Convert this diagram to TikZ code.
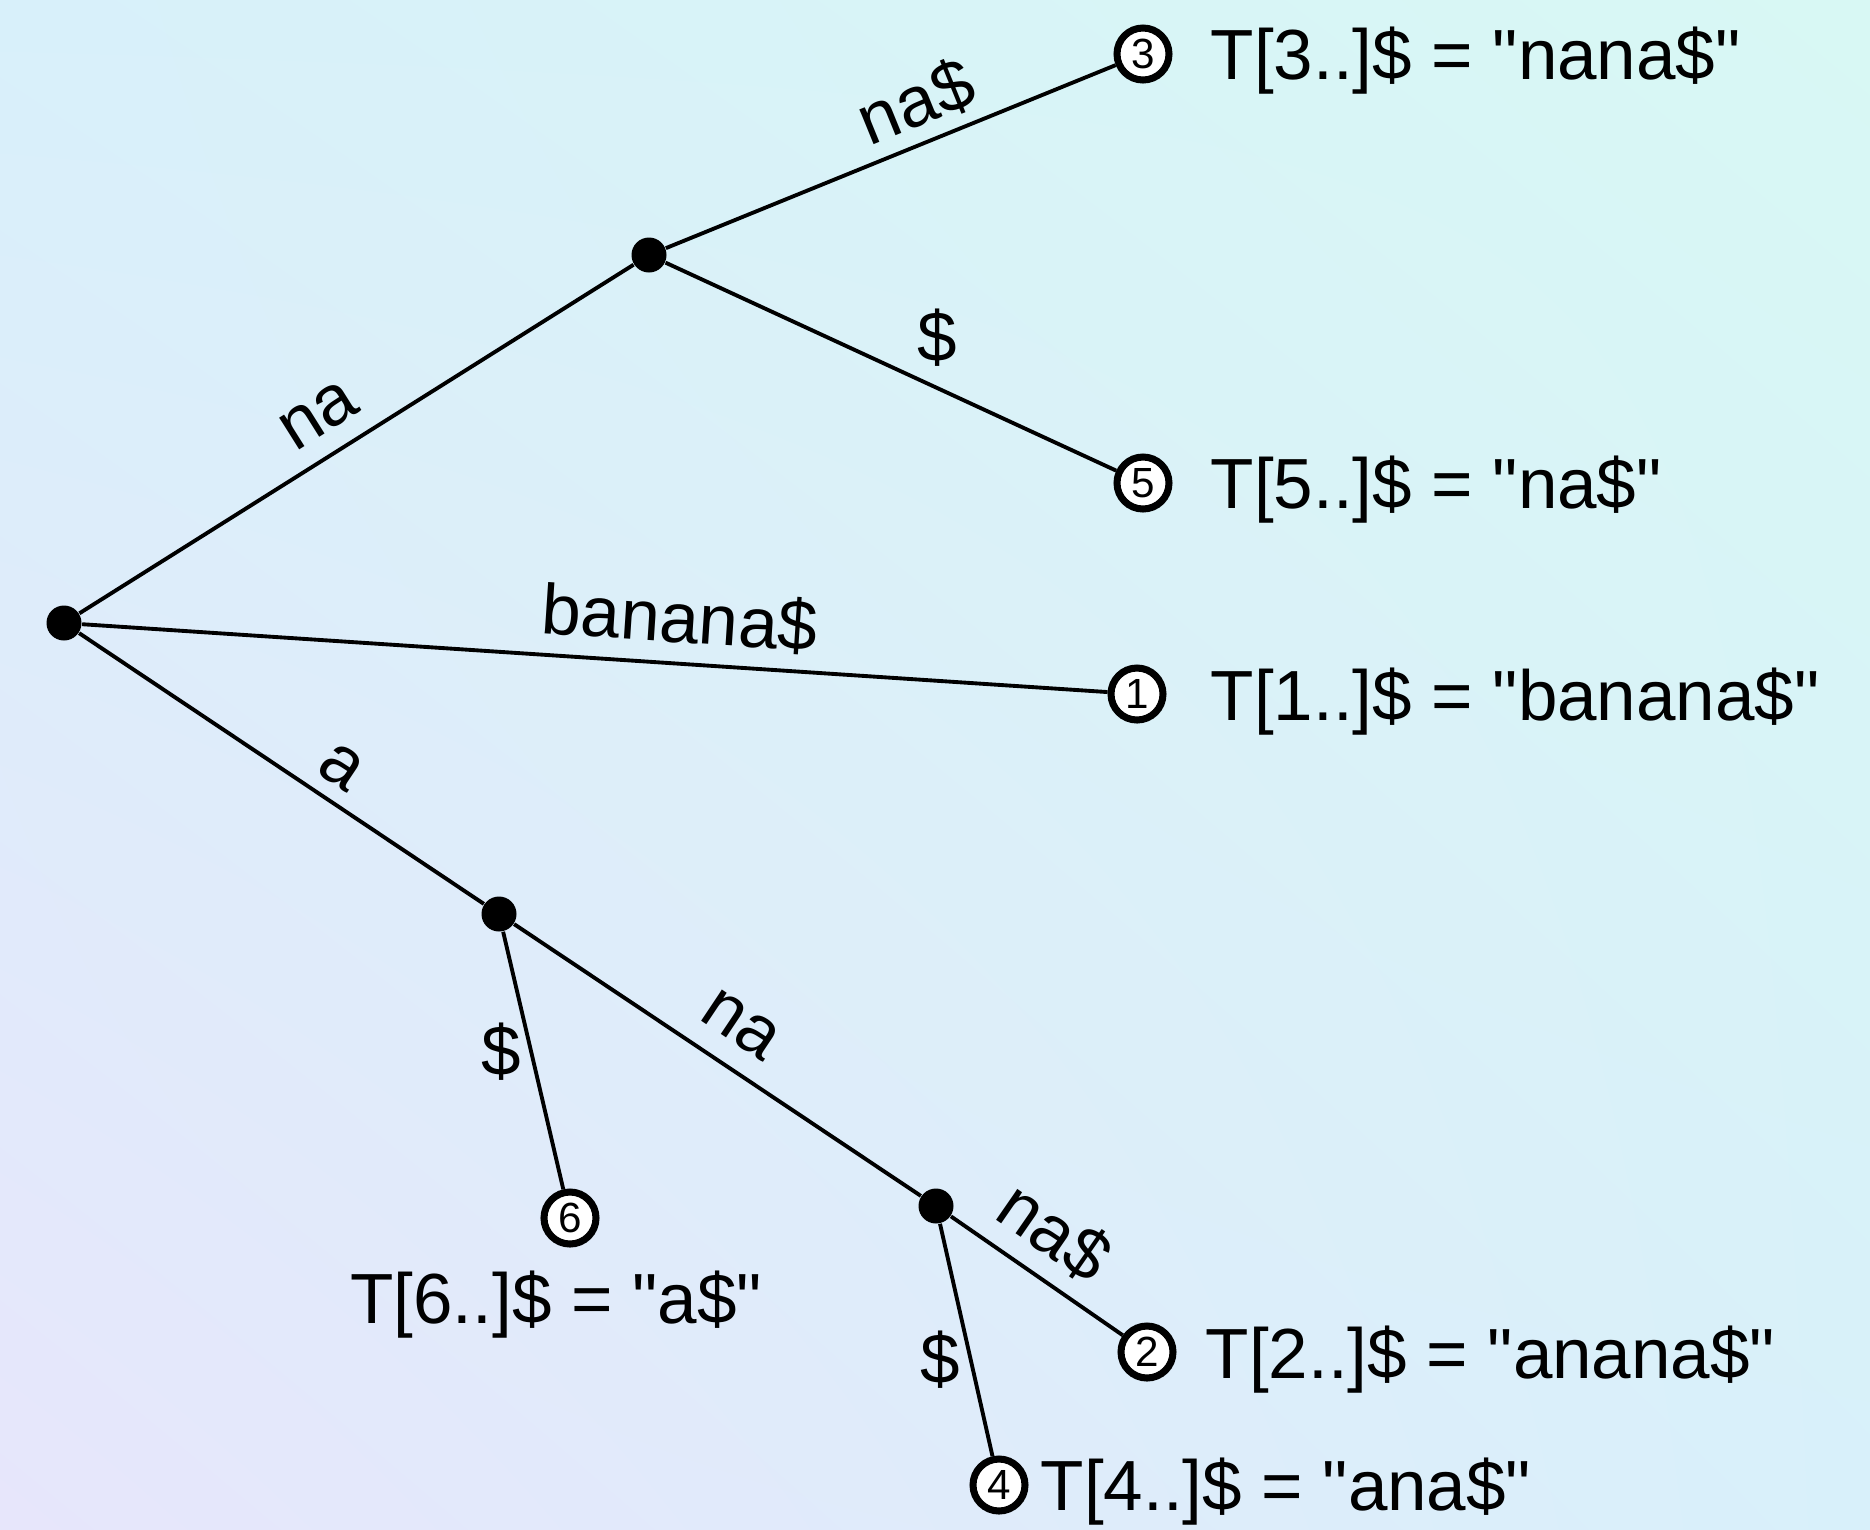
\documentclass[tikz,border=0pt]{standalone}
\usepackage{fontspec}
\setmainfont{Liberation Sans}[Ligatures=TeXOff]
\usetikzlibrary{shadings}
\definecolor{bgtl}{RGB}{216,240,250}
\definecolor{bgtr}{RGB}{216,248,244}
\definecolor{bgbl}{RGB}{231,230,251}
\definecolor{bgbr}{RGB}{216,240,250}
\begin{document}
\begin{tikzpicture}[
  dot/.style={circle, fill=black, inner sep=0pt, minimum size=0.35cm},
  leaf/.style={circle, draw, line width=2pt, fill=white, inner sep=0pt, minimum size=0.52cm, font=\fontsize{12}{14}\selectfont},
  lbl/.style={inner sep=0pt, font=\fontsize{20.2}{24}\selectfont},
  edge/.style={line width=1.1pt}]
  \shade[upper left=bgtl, upper right=bgtr, lower left=bgbl, lower right=bgbr] (0,-15.29) rectangle (18.70,0);

  \node[dot] (r) at (0.64,-6.23) {};
  \node[dot] (n1) at (6.49,-2.55) {};
  \node[dot] (n2) at (4.99,-9.14) {};
  \node[dot] (n3) at (9.36,-12.06) {};
  \node[leaf] (l3) at (11.43,-0.54) {3};
  \node[leaf] (l5) at (11.43,-4.83) {5};
  \node[leaf] (l1) at (11.37,-6.94) {1};
  \node[leaf] (l6) at (5.70,-12.18) {6};
  \node[leaf] (l2) at (11.47,-13.52) {2};
  \node[leaf] (l4) at (9.99,-14.85) {4};

  \draw[edge] (r) -- node[lbl, sloped, pos=0.47, yshift=0.40cm] {na} (n1);
  \draw[edge] (n1) -- node[lbl, sloped, pos=0.59, yshift=0.41cm] {na\$} (l3);
  \draw[edge] (n1) -- node[lbl, pos=0.56, xshift=0.19cm, yshift=0.41cm] {\$} (l5);
  \draw[edge] (r) -- node[lbl, sloped, pos=0.58, yshift=0.45cm] {banana\$} (l1);
  \draw[edge] (r) -- node[lbl, sloped, pos=0.60, yshift=0.35cm] {a} (n2);
  \draw[edge] (n2) -- node[lbl, pos=0.44, xshift=-0.28cm, yshift=-0.07cm] {\$} (l6);
  \draw[edge] (n2) -- node[lbl, sloped, pos=0.50, yshift=0.42cm] {na} (n3);
  \draw[edge] (n3) -- node[lbl, sloped, pos=0.45, yshift=0.46cm] {na\$} (l2);
  \draw[edge] (n3) -- node[lbl, pos=0.56, xshift=-0.29cm, yshift=-0.06cm] {\$} (l4);

  \node[lbl, anchor=base west] (t3) at (12.10,-0.79) {T[3..]\$ = "nana\$"};
  \node[lbl, anchor=base west] (t5) at (12.10,-5.08) {T[5..]\$ = "na\$"};
  \node[lbl, anchor=base west] (t1) at (12.10,-7.20) {T[1..]\$ = "banana\$"};
  \node[lbl, anchor=base west] (t2) at (12.05,-13.78) {T[2..]\$ = "anana\$"};
  \node[lbl, anchor=base west] (t4) at (10.40,-15.10) {T[4..]\$ = "ana\$"};
  \node[lbl, anchor=base] (t6) at (5.56,-13.23) {T[6..]\$ = "a\$"};
\end{tikzpicture}
\end{document}
